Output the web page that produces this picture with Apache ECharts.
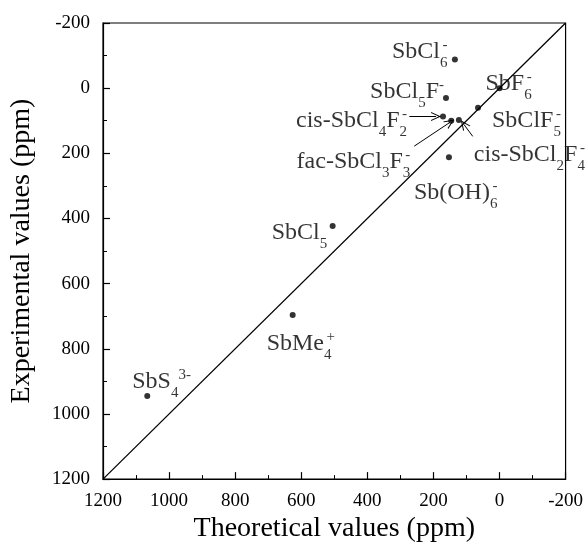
<!DOCTYPE html>
<html>
<head>
<meta charset="utf-8">
<script src="https://cdn.jsdelivr.net/npm/echarts@6/dist/echarts.min.js"></script>
<style>html,body{margin:0;padding:0;background:#fff}#c{width:586px;height:548px}</style>
</head>
<body>
<div id="c"></div>
<script>
// ---- data ----
const compounds = [
  '{m|SbCl}{sub|6}{sup2|-}',
  '{m|SbCl}{sub|5}{m|F}{sup|-}',
  '{m|cis-SbCl}{sub|4}{m|F}{sub|2}{sup2|-}',
  '{m|fac-SbCl}{sub|3}{m|F}{sub|3}{sup2|-}',
  '{m|cis-SbCl}{sub|2}{m|F}{sub|4}{sup2|-}',
  '{m|SbClF}{sub|5}{sup2|-}',
  '{m|SbF}{sub|6}{sup2|-}',
  '{m|Sb(OH)}{sub|6}{sup2|-}',
  '{m|SbCl}{sub|5}',
  '{m|SbMe}{sub|4}{sup2|+}',
  '{m|SbS}{sub|4}{sup|3-}'
];
const theoretical  = [135, 162, 171, 146, 123, 65, 0, 153, 505, 626, 1066];
const experimental = [-88, 30, 87, 100, 98, 60, 0, 212, 423, 696, 945];
const diagonal = [[1200, 1200], [-200, -200]];
// arrows: [fromX, fromY, toX, toY] in data units
const arrows = [
  [273, 87, 192, 87],
  [258, 178, 150, 105],
  [81, 148, 108, 111]
];

// ---- label placement (styling) ----
const labelPlace = [
  [-60, -10.5, 'left'],
  [1, -9.5, 'right'],
  [-33, 1.5, 'right'],
  [-38, 37.5, 'right'],
  [18, 31.5, 'left'],
  [17, 9.5, 'left'],
  [-11, -7.5, 'left'],
  [-32, 32.5, 'left'],
  [-58, 3.5, 'left'],
  [-23, 25.5, 'left'],
  [-12, -17.5, 'left']
];

const FONT = '"Liberation Serif", "Times New Roman", serif';
const rich = {
  m:    { fontFamily: FONT, fontSize: 24, lineHeight: 24, padding: [6,0,0,0], verticalAlign: 'top', color: '#000' },
  sub:  { fontFamily: FONT, fontSize: 15, lineHeight: 15, padding: [22,0,0,0], verticalAlign: 'top', color: '#000' },
  sup:  { fontFamily: FONT, fontSize: 15, lineHeight: 15, padding: [4,0,0,0], verticalAlign: 'top', color: '#000' },
  sup2: { fontFamily: FONT, fontSize: 15, lineHeight: 15, padding: [4,0,0,-5], verticalAlign: 'top', color: '#000' }
};

const scatterData = theoretical.map((x, i) => ({
  value: [x, experimental[i]],
  label: {
    show: true,
    formatter: compounds[i],
    position: [labelPlace[i][0], labelPlace[i][1]],
    align: labelPlace[i][2],
    verticalAlign: 'middle',
    rich: rich
  }
}));

const arrowHead = 'path://M0,0 L5,10 L3.8,10 L0,2.4 L-3.8,10 L-5,10 Z';
const markLineData = arrows.map(a => [
  { coord: [a[0], a[1]], symbol: 'none' },
  { coord: [a[2], a[3]], symbol: arrowHead, symbolSize: [9, 10] }
]);

const axisCommon = {
  type: 'value',
  min: -200, max: 1200, interval: 200,
  inverse: true,
  axisLine: { show: true, onZero: false, lineStyle: { color: '#000', width: 1.2 } },
  axisTick: { show: true, inside: true, length: 7, lineStyle: { color: '#000', width: 1.2 } },
  minorTick: { show: true, splitNumber: 2, length: 4, lineStyle: { color: '#000', width: 1 } },
  splitLine: { show: false },
  axisLabel: { color: '#000', fontFamily: FONT, fontSize: 19, margin: 10, formatter: v => String(v) },
  nameTextStyle: { color: '#000', fontFamily: FONT, fontSize: 28 },
  nameLocation: 'middle'
};

const chart = echarts.init(document.getElementById('c'), null, { renderer: 'canvas' });
chart.setOption({
  animation: false,
  backgroundColor: '#fff',
  grid: { left: 102, right: 19, top: 23, bottom: 62, show: true, borderColor: '#000', borderWidth: 1.2, backgroundColor: 'transparent' },
  xAxis: Object.assign({}, axisCommon, {
    name: 'Theoretical values (ppm)', nameGap: 33,
    axisLabel: Object.assign({}, axisCommon.axisLabel, { margin: 12 })
  }),
  yAxis: Object.assign({}, axisCommon, {
    name: 'Experimental values (ppm)', nameGap: 67, nameRotate: 90,
    axisLabel: Object.assign({}, axisCommon.axisLabel, { margin: 13 })
  }),
  series: [
    {
      type: 'line',
      data: diagonal,
      symbol: 'none',
      lineStyle: { color: '#000', width: 1.3 },
      silent: true,
      z: 1,
      markLine: {
        silent: true,
        animation: false,
        label: { show: false },
        lineStyle: { color: '#000', width: 1, type: 'solid' },
        data: markLineData
      }
    },
    {
      type: 'scatter',
      data: scatterData,
      symbol: 'circle',
      symbolSize: 6,
      itemStyle: { color: '#000' },
      z: 3
    }
  ]
});
</script>
</body>
</html>
